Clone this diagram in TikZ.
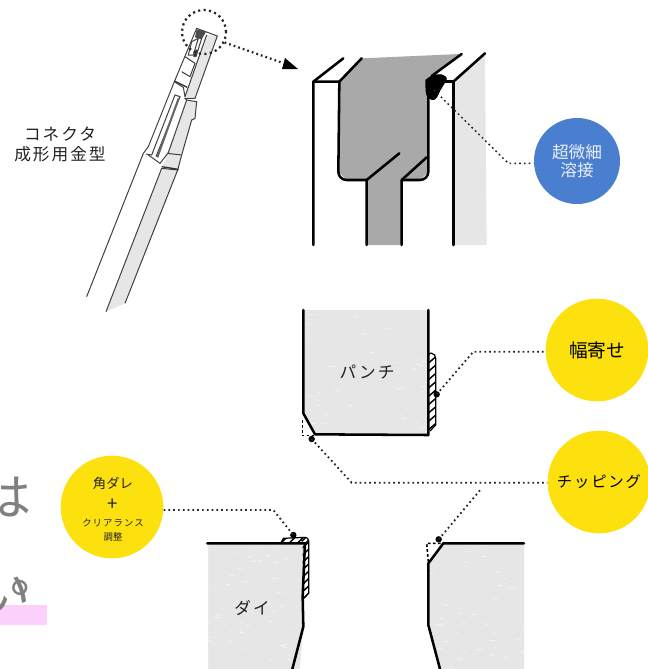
\documentclass[tikz,border=0pt]{standalone}
\usepackage{fontspec}
\setmainfont{Noto Sans CJK JP}
\newfontfamily\spaced[LetterSpace=12]{Noto Sans CJK JP}
\usetikzlibrary{calc}
\definecolor{ylw}{HTML}{FCE10F}
\definecolor{blu}{HTML}{4A7ECF}
\definecolor{lgray}{HTML}{E6E6E6}
\definecolor{dgray}{HTML}{A9A9A9}
\definecolor{ink}{HTML}{222222}
\definecolor{bigt}{HTML}{808080}
\definecolor{pinkish}{HTML}{FBD0FB}
\newcommand{\fs}[1]{\fontsize{#1*0.75pt}{#1*0.9pt}\selectfont}
\newcommand{\px}[1]{\fontsize{#1}{#1}\selectfont}
\tikzset{
  thick line/.style={line width=1.9pt,black,line cap=round,line join=round},
  thin line/.style={line width=.75pt,black!75},
  dots/.style={line width=1.35pt,black!85,dash pattern=on 1.3pt off 2.3pt},
  dotm/.style={circle,fill=black,inner sep=0,minimum size=5pt},
  bubble/.style={circle,inner sep=0,fill=ylw,align=center},
  z1/.style={shift={(80,0)},x=.25pt,y=-.25pt},
  z2/.style={shift={(300,40)},x=.25pt,y=-.25pt},
  z3/.style={shift={(290,295)},x=.25pt,y=-.25pt},
  z4/.style={shift={(0,450)},x=.25pt,y=-.25pt},
  z5/.style={shift={(400,480)},x=.25pt,y=-.25pt},
  lab/.style={text=ink,inner sep=0,align=center}
}
\begin{document}
\begin{tikzpicture}[x=.75pt,y=-.75pt]
\useasboundingbox (0,0) rectangle (648,669);
% clipped body text and highlight
\begin{scope}
\clip (0,0) rectangle (648,669);
\fill[pinkish] (0,605) rectangle (47,625);
\node[text=bigt,inner sep=0,anchor=center] (ha) at (7,497) {\fontsize{37.5pt}{40pt}\selectfont は};
\node[text=bigt,inner sep=0,anchor=center] (i) at (5,593) {\fontsize{37.5pt}{40pt}\selectfont い};
\node[text=bigt,inner sep=0,anchor=center] (maru) at (36,588) {\fontsize{37.5pt}{40pt}\selectfont 。};
\end{scope}
% connector tool
\begin{scope}[z1]
\fill[lgray] (78,935)--(245,505)--(295,510)--(135,910)--cycle;
\fill[lgray] (248,498)--(265,458)--(305,465)--(293,510)--cycle;
\fill[lgray] (262,460)--(320,300)--(350,305)--(345,355)--(335,360)--(305,465)--cycle;
\fill[lgray] (315,290)--(380,105)--(412,108)--(345,295)--cycle;
\draw[thin line] (20,890)--(190,460)--(205,440)--(283,245)--(350,85)--(412,108)--(345,295)--(315,295)--(320,300)--(350,305)--(345,355)--(335,360)--(305,465)--(293,510)--(135,910);
\draw[thin line] (78,935)--(245,505)--(295,510);
\draw[thin line] (205,465)--(240,490)--(265,458)--(320,300);
\draw[thin line] (198,462)--(215,465)--(285,285)--(300,290)--(228,470);
\draw[line width=1.5pt,black!60] (232,472)--(296,295);
\draw[line width=1pt,black!80] (245,500)--(295,508);
\draw[thin line] (262,460)--(305,465);
\draw[line width=1pt,black!80] (283,243)--(322,262);
\draw[thin line] (283,245)--(310,262)--(315,290);
\draw[thin line] (315,170)--(345,190)--(330,230)--(305,215);
\draw[thin line] (380,105)--(315,290);
\fill[black!70] (350,88)--(378,95)--(365,118)--(345,112)--cycle;
\draw[thin line] (335,125)--(355,115)--(340,165)--(325,165)--cycle;
\fill[black!80] (340,170)--(348,148)--(354,150)--(346,172)--cycle;
\draw[thin line] (365,115)--(348,170);
\end{scope}
\node[draw=black!85,line width=1.7pt,dash pattern=on 1.6pt off 2.5pt,circle,inner sep=0,minimum size=33pt] (zoomc) at (204,32) {};
\fill[black] (285,58)--(282,69)--(298,69)--cycle;
\coordinate (arr) at (283,63);
\draw[dots,line width=1.7pt] (zoomc.-27) -- (arr);
\node[lab] (title) at (60,144) {\spaced\px{12.5pt}コネクタ\\[3pt]\spaced\px{12.5pt}成形用金型};
% detail
\begin{scope}[z2]
\fill[lgray] (465,125)--(555,40)--(560,615)--(465,615)--cycle;
\fill[dgray] (118,125)--(185,55)--(480,42)--(405,105)--(385,125)--(385,395)--(360,420)--(305,420)--(305,615)--(200,615)--(200,420)--(140,420)--(115,395)--cycle;
\draw[thick line] (40,615)--(40,125)--(130,55);
\draw[thick line] (40,125)--(118,125)--(185,55);
\draw[thick line] (118,125)--(115,395) to[out=-90,in=180] (140,420)--(200,420)--(200,615);
\draw[thick line] (200,420)--(298,340);
\draw[thick line] (305,615)--(305,420)--(360,420) to[out=0,in=-90] (385,395)--(385,125);
\draw[thick line] (305,420)--(380,352);
\draw[thick line] (395,108)--(485,42);
\draw[thick line] (430,125)--(460,125)--(460,615);
\draw[thick line] (460,125)--(555,40);
\draw[fill=white,line width=.8pt,black] (378,120)--(395,108) to[out=10,in=170] (425,105) to[out=-10,in=60] (438,120)--(420,150) to[out=-120,in=-20] (395,178) to[out=170,in=-90] (378,140)--cycle;
\coordinate (wdot) at (402,150);
\coordinate (wbend) at (625,370);
\fill (wdot) circle (2.4pt);
\end{scope}
\node[bubble,fill=blu,minimum size=64.5pt,text=white!88!blu] (weld) at (577,161) {\px{12.5pt}超微細\\[1pt]\px{12.5pt}溶接};
\draw[dots,line width=1.1pt] (wdot)--(wbend)--(wbend-|weld.west);
% punch
\begin{scope}[z3]
\fill[lgray] (40,45)--(415,45)--(415,420)--(75,420)--(40,360)--cycle;
\begin{scope}
\clip (40,45)--(415,45)--(415,420)--(75,420)--(40,360)--cycle;
\pgfmathsetseed{7}
\foreach \i in {1,...,70}{\fill[white,opacity=.55] (40+375*rnd,45+375*rnd) ellipse (2.4pt*rnd+.3pt and .4pt);}
\end{scope}
\begin{scope}
\clip (415,175)--(425,175) to[out=0,in=90] (437,190)--(437,390)--(420,408)--(415,408)--cycle;
\foreach \y in {170,195,...,420}{\draw[line width=1.1pt,black] (412,\y+12)--(440,\y-12);}
\end{scope}
\draw[line width=.9pt,black] (415,175)--(425,175) to[out=0,in=90] (437,190)--(437,390)--(420,408);
\draw[thick line] (40,45)--(40,355)--(75,418)--(415,420)--(415,45);
\draw[line width=1.2pt,dash pattern=on 2pt off 1.7pt] (38,375)--(38,422)--(75,422);
\coordinate (chipdot) at (65,432);
\coordinate (chipbend) at (185,563);
\coordinate (widdot) at (440,298);
\coordinate (widbend) at (550,170);
\fill (chipdot) circle (2.4pt);
\fill (widdot) circle (2.4pt);
\end{scope}
\node[lab] (punchl) at (367,372) {\spaced\px{12.5pt}パンチ};
\node[bubble,minimum size=77pt] (width) at (597,350) {\px{14pt}幅寄せ};
\node[bubble,minimum size=77pt] (chip) at (599,482) {\spaced\px{11.5pt}チッピング};
\draw[dots] (widdot)--(widbend)--(widbend-|width.west);
\draw[dots] (chipdot)--(chipbend)--(chipbend-|chip.west);
% die left
\begin{scope}[z4]
\fill[lgray] (625,280)--(915,280)--(910,440)--(910,530)--(880,669*4-450*4-1)--(625,669*4-450*4-1)--cycle;
\end{scope}
\begin{scope}[z4]
\fill[lgray] (625,280)--(915,280)--(910,530)--(877,657)--(625,657)--cycle;
\begin{scope}
\clip (625,280)--(915,280)--(910,530)--(877,657)--(625,657)--cycle;
\pgfmathsetseed{11}
\foreach \i in {1,...,60}{\fill[white,opacity=.55] (625+290*rnd,280+377*rnd) ellipse (2.4pt*rnd+.3pt and .4pt);}
\end{scope}
\begin{scope}
\clip (842,280)--(850,265)--(915,262) to[out=0,in=90] (926,272)--(926,430)--(912,445)--(908,445)--(908,280)--cycle;
\foreach \y in {240,262,...,460}{\draw[line width=1.1pt,black] (905,\y+12)--(930,\y-12);}
\foreach \x in {840,865,...,915}{\draw[line width=1.1pt,black] (\x,282)--(\x+22,260);}
\end{scope}
\draw[line width=.9pt,black] (842,280)--(850,265)--(915,262) to[out=0,in=90] (926,272)--(926,430)--(912,445);
\draw[thick line] (622,280)--(915,280)--(908,440)--(910,530)--(877,657);
\coordinate (ddot) at (880,255);
\coordinate (dbend) at (820,180);
\fill (ddot) circle (2.4pt);
\end{scope}
\node[lab] (diel) at (252,608) {\spaced\px{12.5pt}ダイ};
\node[bubble,minimum size=77pt,anchor=center] (corner) at (112,507) {};
\node[lab] (corner1) at (113,483) {\px{10pt}角ダレ};
\node[lab] (cornerp) at (113,505) {\px{14pt}+};
\node[lab] (corner2) at (113,523) {\spaced\px{7pt}クリアランス};
\node[lab] (corner3) at (113,537) {\px{7pt}調整};
\draw[dots] (corner.east|-dbend)--(dbend)--(ddot);
% die right
\begin{scope}[z5]
\fill[lgray] (85,250)--(130,190)--(372,190)--(372,567)--(120,567)--(85,435)--cycle;
\begin{scope}
\clip (85,250)--(130,190)--(372,190)--(372,567)--(120,567)--(85,435)--cycle;
\pgfmathsetseed{5}
\foreach \i in {1,...,55}{\fill[white,opacity=.55] (85+287*rnd,190+377*rnd) ellipse (2.4pt*rnd+.3pt and .4pt);}
\end{scope}
\draw[thick line] (372,190)--(130,190)--(85,250)--(85,435)--(120,567);
\draw[line width=1.2pt,dash pattern=on 2pt off 1.7pt] (85,245)--(80,190)--(130,190);
\coordinate (rdot) at (116,178);
\coordinate (rtop) at (245,25);
\fill (rdot) circle (2.4pt);
\end{scope}
\draw[dots] (rdot)--(rtop);
\end{tikzpicture}
\end{document}
